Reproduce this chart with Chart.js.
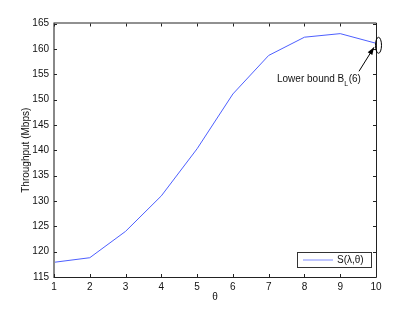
<!DOCTYPE html>
<html>
<head>
<meta charset="utf-8">
<script src="https://cdn.jsdelivr.net/npm/chart.js@4/dist/chart.umd.min.js"></script>
<style>
html,body{margin:0;padding:0;background:#fff;}
#wrap{width:415px;height:312px;position:relative;}
</style>
</head>
<body>
<div id="wrap"><canvas id="c" width="415" height="312"></canvas></div>
<script>
const thetaValues = [1, 2, 3, 4, 5, 6, 7, 8, 9, 10];
const throughput = [117.9, 118.8, 124.0, 131.0, 140.3, 151.1, 158.7, 162.3, 163.0, 161.1];
const seriesLabel = 'S(λ,θ)';
const xTitle = 'θ';
const yTitle = 'Throughput (Mbps)';
const annotationText = ['Lower bound B', 'L', '(6)'];
const annotationIndex = 9;

const FONT = '10px "Liberation Sans", Arial, sans-serif';

const decor = {
  id: 'decor',
  afterDraw(chart) {
    const ctx = chart.ctx;
    const a = chart.chartArea;
    const xs = chart.scales.x, ys = chart.scales.y;
    ctx.save();
    // box
    ctx.strokeStyle = '#222';
    ctx.lineWidth = 1;
    ctx.beginPath();
    ctx.moveTo(a.left, a.bottom + 0.5);
    ctx.lineTo(a.right + 0.5, a.bottom + 0.5);
    ctx.lineTo(a.right + 0.5, a.top - 0.5);
    ctx.lineTo(a.left, a.top - 0.5);
    ctx.stroke();
    ctx.strokeStyle = '#888';
    ctx.lineWidth = 2;
    ctx.beginPath();
    ctx.moveTo(a.left, a.top - 1);
    ctx.lineTo(a.left, a.bottom + 1);
    ctx.stroke();
    // inward ticks
    ctx.strokeStyle = '#222';
    ctx.lineWidth = 1;
    ctx.beginPath();
    xs.ticks.forEach(t => {
      const px = Math.round(xs.getPixelForValue(t.value)) + 0.5;
      ctx.moveTo(px, a.bottom); ctx.lineTo(px, a.bottom - 3);
      ctx.moveTo(px, a.top); ctx.lineTo(px, a.top + 3);
    });
    ys.ticks.forEach(t => {
      const py = Math.round(ys.getPixelForValue(t.value)) + 0.5;
      ctx.moveTo(a.left, py); ctx.lineTo(a.left + 3, py);
      ctx.moveTo(a.right, py); ctx.lineTo(a.right - 3, py);
    });
    ctx.stroke();
    // axis titles
    ctx.fillStyle = '#111';
    ctx.font = FONT;
    ctx.textAlign = 'center';
    ctx.textBaseline = 'middle';
    ctx.fillText(xTitle, (a.left + a.right) / 2, 297);
    ctx.save();
    ctx.translate(26, (a.top + a.bottom) / 2);
    ctx.rotate(-Math.PI / 2);
    ctx.fillText(yTitle, 0, 0);
    ctx.restore();
    // annotation ellipse & arrow
    const px = xs.getPixelForValue(thetaValues[annotationIndex]);
    const py = ys.getPixelForValue(throughput[annotationIndex]);
    ctx.strokeStyle = '#000';
    ctx.lineWidth = 1;
    ctx.beginPath();
    ctx.ellipse(px + 2.5, py + 2, 3, 8, 0, 0, Math.PI * 2);
    ctx.stroke();
    const sx = px - 17, sy = py + 28, ex = px - 2, ey = py + 4;
    ctx.beginPath();
    ctx.moveTo(sx, sy); ctx.lineTo(ex, ey);
    ctx.stroke();
    const ang = Math.atan2(ey - sy, ex - sx);
    ctx.fillStyle = '#000';
    ctx.beginPath();
    ctx.moveTo(ex, ey);
    ctx.lineTo(ex - 8 * Math.cos(ang - 0.35), ey - 8 * Math.sin(ang - 0.35));
    ctx.lineTo(ex - 8 * Math.cos(ang + 0.35), ey - 8 * Math.sin(ang + 0.35));
    ctx.closePath();
    ctx.fill();
    // annotation text
    ctx.fillStyle = '#111';
    ctx.textAlign = 'left';
    ctx.textBaseline = 'alphabetic';
    let tx = 277, ty = 82;
    ctx.font = FONT;
    ctx.fillText(annotationText[0], tx, ty);
    tx += ctx.measureText(annotationText[0]).width;
    ctx.font = '7px "Liberation Sans", Arial, sans-serif';
    ctx.fillText(annotationText[1], tx, ty + 4);
    tx += ctx.measureText(annotationText[1]).width + 0.5;
    ctx.font = FONT;
    ctx.fillText(annotationText[2], tx, ty);
    // legend
    ctx.fillStyle = '#fff';
    ctx.fillRect(297.5, 252.5, 74, 15);
    ctx.strokeStyle = '#333';
    ctx.lineWidth = 1;
    ctx.strokeRect(297.5, 252.5, 74, 15);
    ctx.strokeStyle = '#7f8cff';
    ctx.beginPath();
    ctx.moveTo(303, 260); ctx.lineTo(333, 260);
    ctx.stroke();
    ctx.fillStyle = '#111';
    ctx.font = FONT;
    ctx.textBaseline = 'middle';
    ctx.fillText(seriesLabel, 337, 260);
    ctx.restore();
  }
};

new Chart(document.getElementById('c'), {
  type: 'line',
  data: {
    datasets: [{
      label: seriesLabel,
      data: thetaValues.map((x, i) => ({x, y: throughput[i]})),
      borderColor: '#4d5fff',
      borderWidth: 1,
      pointRadius: 0,
      tension: 0,
      fill: false
    }]
  },
  options: {
    responsive: false,
    animation: false,
    devicePixelRatio: 1,
    layout: {padding: {left: 0, right: 39, top: 23.5, bottom: 0}},
    plugins: {legend: {display: false}, tooltip: {enabled: false}},
    scales: {
      x: {
        type: 'linear', min: 1, max: 10,
        ticks: {stepSize: 1, color: '#111', font: {family: '"Liberation Sans", Arial, sans-serif', size: 10}, padding: 4, maxRotation: 0},
        grid: {display: false, drawTicks: false},
        border: {display: false},
        afterFit(s) { s.height = 35; }
      },
      y: {
        min: 115, max: 165,
        ticks: {stepSize: 5, color: '#111', font: {family: '"Liberation Sans", Arial, sans-serif', size: 10}, padding: 5},
        grid: {display: false, drawTicks: false},
        border: {display: false},
        afterFit(s) { s.width = 54; }
      }
    }
  },
  plugins: [decor]
});
</script>
</body>
</html>
